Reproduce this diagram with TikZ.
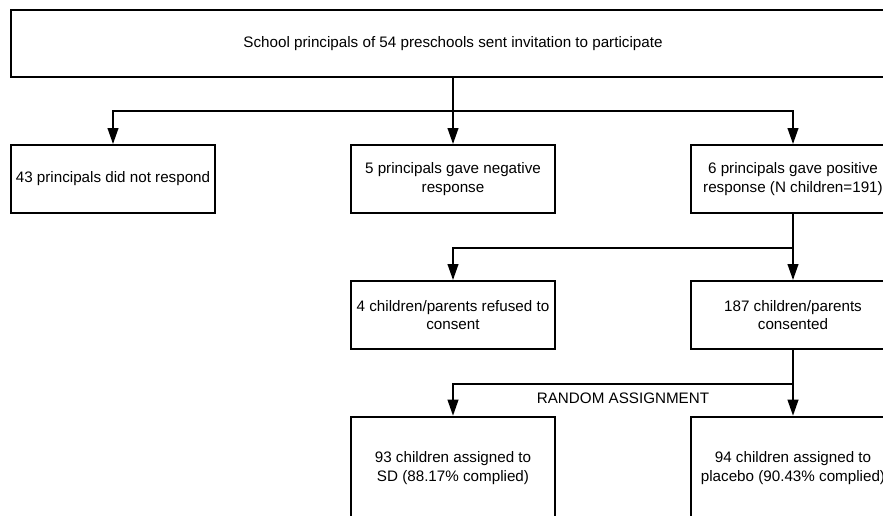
\documentclass[tikz,border=0pt]{standalone}
\usepackage{fontspec}
\setmainfont{Liberation Sans}
\usetikzlibrary{arrows.meta,positioning}

\begin{document}
\begin{tikzpicture}[x=0.75pt,y=-0.75pt,
    box/.style={rectangle, draw, line width=1.4pt, align=center, inner sep=0pt,
      minimum width=153pt, minimum height=51pt, font=\fontsize{11.4}{14}\selectfont},
    arr/.style={line width=1.4pt, -{Triangle[width=8pt,length=12pt]}},
    link/.style={line width=1.4pt}]
        \useasboundingbox (0,0) rectangle (883,515);
        \clip (0,0) rectangle (883,515);
        \node[box, minimum width=663pt, minimum height=50pt] at (453,43.5) (invite) {School principals of 54 preschools sent invitation to participate};
        \node[box] at (113,179) (noresp) {43 principals did not respond};
        \node[box] at (453,179) (negresp) {5 principals gave negative\\response};
        \node[box] at (793,179) (posresp) {6 principals gave positive\\response (N children=191)};
        \node[box] at (453,315) (refuse) {4 children/parents refused to\\consent};
        \node[box] at (793,315) (consent) {187 children/parents\\consented};
        \node[box, minimum height=77pt] at (453,468) (sd) {93 children assigned to\\SD (88.17\% complied)};
        \node[box, minimum height=77pt] at (793,468) (placebo) {94 children assigned to\\placebo (90.43\% complied)};
        \node[font=\fontsize{11.4}{14}\selectfont] at (623,398) (random) {RANDOM ASSIGNMENT};
        % first split
        \coordinate (split1) at (453,111);
        \draw[link] (invite) -- (split1);
        \draw[arr] (split1) -| (noresp);
        \draw[arr] (split1) -- (negresp);
        \draw[arr] (split1) -| (posresp);
        % consent split
        \coordinate (split2) at (793,248);
        \draw[link] (posresp) -- (split2);
        \draw[arr] (split2) -| (refuse);
        \draw[arr] (split2) -- (consent);
        % randomisation
        \coordinate (split3) at (793,384);
        \draw[link] (consent) -- (split3);
        \draw[arr] (split3) -| (sd);
        \draw[arr] (split3) -- (placebo);
\end{tikzpicture}
\end{document}
